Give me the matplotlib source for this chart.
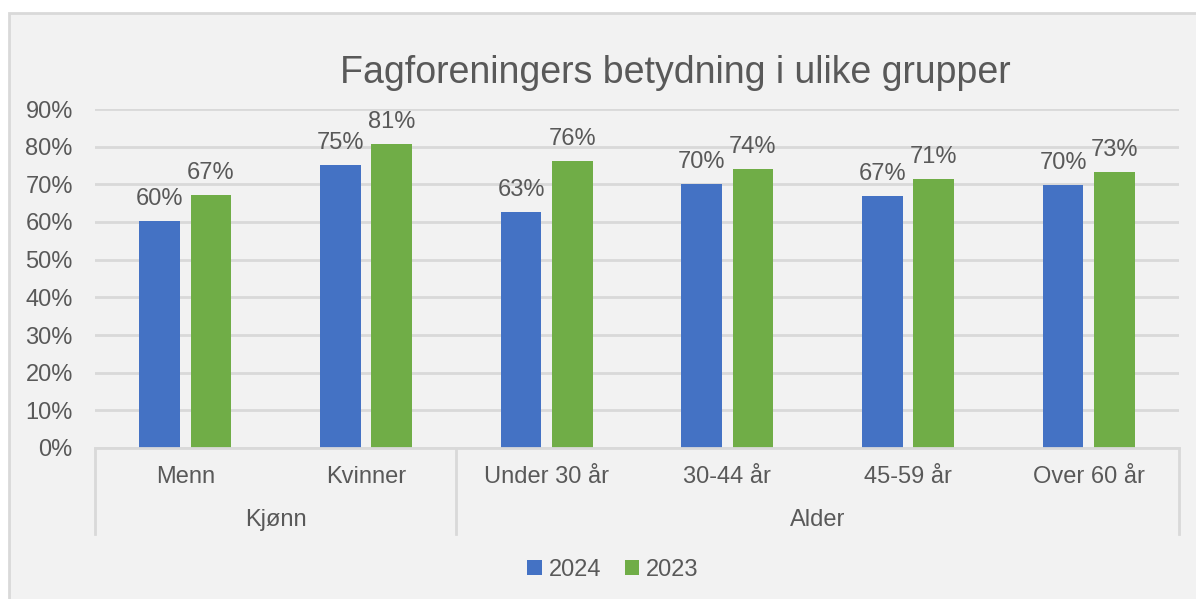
import matplotlib
matplotlib.use("Agg")
import matplotlib.pyplot as plt
from matplotlib.patches import Rectangle, Patch
from matplotlib.lines import Line2D
import numpy as np

plt.rcParams['font.family'] = ['Liberation Sans', 'DejaVu Sans']

title = "Fagforeningers betydning i ulike grupper"
categories = ["Menn", "Kvinner", "Under 30 år", "30-44 år", "45-59 år", "Over 60 år"]
groups = ["Kjønn", "Alder"]
group_sizes = [2, 4]
series_names = ["2024", "2023"]
values_2024 = [60.2, 75.1, 62.7, 70.0, 66.8, 69.8]
values_2023 = [67.3, 80.6, 76.1, 74.1, 71.4, 73.4]
yticks = [0, 10, 20, 30, 40, 50, 60, 70, 80, 90]

BLUE = "#4472C4"
GREEN = "#70AD47"
TXT = "#595959"
GRID = "#D9D9D9"
BG = "#F2F2F2"
FS = 17

W, H = 1196, 599
fig = plt.figure(figsize=(W / 100, H / 100), dpi=100)
fig.patch.set_facecolor("white")

# chart area border
fig.patches.append(Rectangle((8.5 / W, -0.05), 1.1, 1 - 13 / H + 0.05,
                             transform=fig.transFigure, facecolor=BG,
                             edgecolor=GRID, lw=2, zorder=-10))

x0, x1 = 95, 1179
y0, y1 = 448, 109
ax = fig.add_axes([x0 / W, 1 - y0 / H, (x1 - x0) / W, (y0 - y1) / H])
ax.set_zorder(5)
ax.set_facecolor("none")
ax.set_xlim(-0.5, len(categories) - 0.5)
ax.set_ylim(0, 90)

x = np.arange(len(categories))
off, bw = 0.142, 0.225
b1 = ax.bar(x - off, values_2024, bw, color=BLUE, zorder=3)
b2 = ax.bar(x + off, values_2023, bw, color=GREEN, zorder=3)

for bars, vals in ((b1, values_2024), (b2, values_2023)):
    for rect, v in zip(bars, vals):
        ax.annotate(f"{v:.0f}%", (rect.get_x() + rect.get_width() / 2, v),
                    xytext=(0, 11.5), textcoords="offset points",
                    ha="center", va="baseline", fontsize=FS, color=TXT)

ax.set_yticks(yticks)
ax.set_yticklabels([f"{t}%" for t in yticks])
ax.tick_params(axis="y", length=0, pad=16, labelsize=FS, labelcolor=TXT)
ax.set_xticks([])
ax.yaxis.grid(True, color=GRID, lw=2, zorder=0)
ax.set_axisbelow(True)
for s in ax.spines.values():
    s.set_visible(False)
ax.axhline(0, color=GRID, lw=2, zorder=4, clip_on=False)

# category labels
trans = ax.get_xaxis_transform()
def ypx(p):
    return (y0 - p) / (y0 - y1)  # axes fraction for pixel row p

for i, c in enumerate(categories):
    ax.text(i, ypx(477), c, transform=trans, ha="center", va="center",
            fontsize=FS, color=TXT)

# group labels and separators
start = 0
bounds = [-0.5]
for g, n in zip(groups, group_sizes):
    center = start + (n - 1) / 2
    ax.text(center, ypx(520), g, transform=trans, ha="center", va="center",
            fontsize=FS, color=TXT)
    start += n
    bounds.append(start - 0.5)
for b in bounds:
    ax.add_line(Line2D([b, b], [0, ypx(534)], transform=trans, color=GRID,
                       lw=2, clip_on=False))

# title
fig.text(675 / W, 1 - 83 / H, title, ha="center", va="baseline",
         fontsize=27, color=TXT)

# legend
handles = [Patch(facecolor=BLUE), Patch(facecolor=GREEN)]
fig.legend(handles, series_names, loc="center", bbox_to_anchor=(613 / W, 1 - 570 / H),
           ncol=2, frameon=False, fontsize=FS, labelcolor=TXT,
           handlelength=0.6, handleheight=0.6, handletextpad=0.3, columnspacing=1.0)

fig.savefig("out.png", dpi=100, facecolor=fig.get_facecolor())
